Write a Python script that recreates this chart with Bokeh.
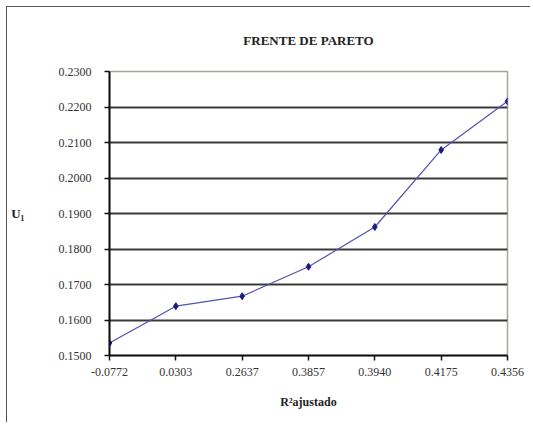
from bokeh.plotting import figure
from bokeh.models import Range1d, FixedTicker, NumeralTickFormatter
from bokeh.embed import file_html
from bokeh.resources import INLINE

categories = ["-0.0772", "0.0303", "0.2637", "0.3857", "0.3940", "0.4175", "0.4356"]
u1_values = [0.1535, 0.1639, 0.1667, 0.1750, 0.1862, 0.2079, 0.2216]
y_ticks = [0.15, 0.16, 0.17, 0.18, 0.19, 0.20, 0.21, 0.22, 0.23]

xs = list(range(len(categories)))

FONT = "Liberation Serif"

p = figure(width=524, height=416, output_backend="svg", toolbar_location=None,
           x_range=Range1d(0, len(categories) - 1), y_range=Range1d(0.15, 0.23),
           min_border_left=102, min_border_right=24, min_border_top=62, min_border_bottom=68)
p.styles = {"border-left": "1px solid #555555", "border-top": "1px solid #555555",
            "margin-left": "6px", "margin-top": "6px"}

p.background_fill_color = "white"
p.border_fill_color = "white"
p.outline_line_color = "#a8a49c"
p.outline_line_width = 1.5

# title
p.title.text = "FRENTE DE PARETO"
p.title.align = "center"
p.title.offset = 12
p.title.standoff = 47
p.title.text_font = FONT
p.title.text_font_style = "bold"
p.title.text_font_size = "13px"
p.title.text_color = "#222222"

# axes
p.xaxis.ticker = FixedTicker(ticks=xs)
p.xaxis.major_label_overrides = {i: c for i, c in enumerate(categories)}
p.yaxis.ticker = FixedTicker(ticks=y_ticks)
p.yaxis.formatter = NumeralTickFormatter(format="0.0000")
for ax in (p.xaxis, p.yaxis):
    ax.axis_line_color = "#111111"
    ax.axis_line_width = 2
    ax.major_tick_line_color = "#111111"
    ax.major_tick_line_width = 1.5
    ax.major_tick_in = 0
    ax.major_tick_out = 5
    ax.minor_tick_line_color = None
    ax.major_label_text_font = FONT
    ax.major_label_text_font_size = "12px"
    ax.major_label_text_color = "#333333"
    ax.axis_label_text_font = FONT
    ax.axis_label_text_font_style = "bold"
    ax.axis_label_text_color = "#222222"
p.yaxis.major_label_standoff = 13
p.xaxis.major_label_standoff = 7

p.yaxis.axis_label = "U₁"
p.yaxis.axis_label_orientation = "horizontal"
p.yaxis.axis_label_text_font_size = "13px"
p.yaxis.axis_label_standoff = 31

p.xaxis.axis_label = "R²ajustado"
p.xaxis.axis_label_text_font_size = "12px"
p.xaxis.axis_label_standoff = 16

# grid
p.xgrid.grid_line_color = None
p.ygrid.ticker = FixedTicker(ticks=y_ticks[1:-1])
p.ygrid.grid_line_color = "#3a3a3a"
p.ygrid.grid_line_width = 1.8

# data
p.line(xs, u1_values, line_color="#5252b4", line_width=1.2)
p.scatter(xs, u1_values, marker="diamond", size=7, color="#1c1c80")

open("out.html", "w").write(file_html(p, INLINE))
